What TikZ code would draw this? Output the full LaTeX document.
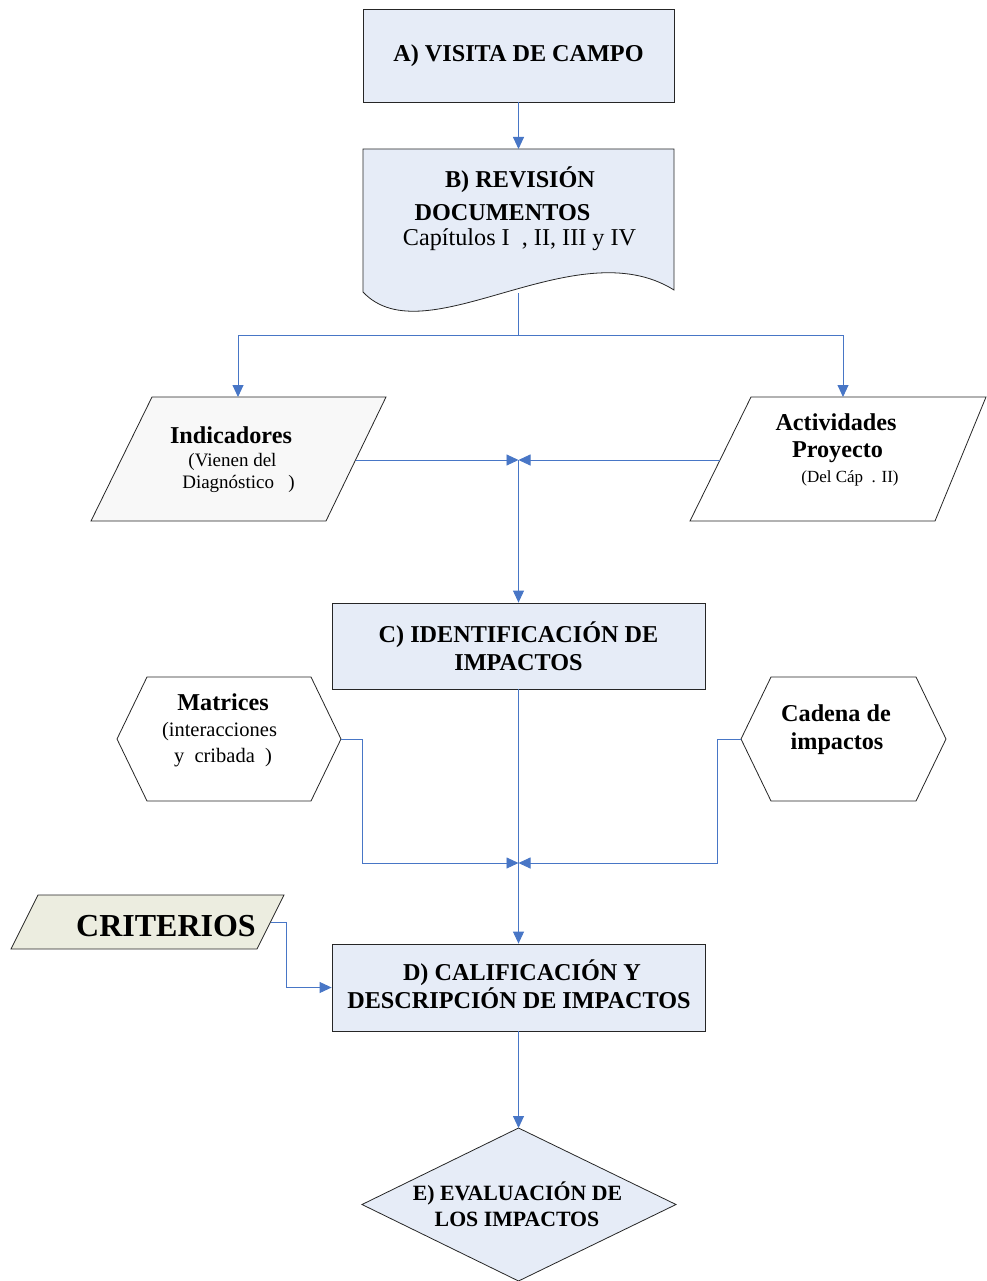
\documentclass[tikz,border=0pt]{standalone}
\usepackage{fontspec}
\setmainfont{Liberation Serif}
\usetikzlibrary{arrows.meta}
\definecolor{boxblue}{RGB}{230,236,247}
\definecolor{linkblue}{RGB}{72,118,198}
\definecolor{paperfill}{RGB}{248,248,248}
\definecolor{critfill}{RGB}{236,237,224}
\tikzset{
  outline/.style={draw=black!85, line width=0.8pt},
  procbox/.style={outline, fill=boxblue, rectangle, inner sep=0pt, align=center,
                  font=\fontsize{24.2}{28}\selectfont\bfseries},
  txt/.style={inner sep=0pt, anchor=base, text=black},
  hd/.style={txt, font=\fontsize{24.2}{28}\selectfont\bfseries},
  conn/.style={draw=linkblue, line width=0.9pt},
  arr/.style={conn, -{Triangle[length=12pt,width=11pt]}},
}
\begin{document}
\begin{tikzpicture}[x=1pt, y=-1pt]
\useasboundingbox (0,0) rectangle (986,1281);

% --- A: field visit
\node[procbox, minimum width=311pt, minimum height=93pt] (A) at (518.5,55.5) {A) VISITA DE CAMPO};

% --- B: document review (document shape)
\draw[outline, fill=boxblue] (363,149) -- (674,149) -- (674,290)
  .. controls (575,228) and (425,358) .. (363,292) -- cycle;
\coordinate (Btop) at (518.5,149);
\coordinate (Bbot) at (518.5,293);
\node[hd] (B1) at (520,188) {B) REVISIÓN};
\node[hd] (B2) at (502.5,221) {DOCUMENTOS};
\node[txt, font=\fontsize{24.2}{28}\selectfont] (B3) at (519.5,246) {Capítulos I\ \ , II, III y IV};

% --- inputs: indicators and project activities
\draw[outline, fill=paperfill] (152,397) -- (386,397) -- (326,521) -- (91,521) -- cycle;
\coordinate (IndTop) at (238,397);
\coordinate (IndR) at (356,460);
\node[hd] (Ind1) at (231,443) {Indicadores};
\node[txt, font=\fontsize{19}{22}\selectfont] (Ind2) at (232.5,466) {(Vienen del};
\node[txt, font=\fontsize{19}{22}\selectfont] (Ind3) at (238.5,488) {Diagnóstico\ \ \ )};

\draw[outline, fill=white] (751,397) -- (986,397) -- (935,521) -- (690,521) -- cycle;
\coordinate (ActTop) at (843,397);
\coordinate (ActL) at (720,460);
\node[hd] (Act1) at (836,430) {Actividades};
\node[hd] (Act2) at (837.5,457) {Proyecto};
\node[txt, font=\fontsize{17}{20}\selectfont] (Act3) at (850,482) {(Del Cáp\ \ . II)};

% --- C: impact identification
\node[procbox, minimum width=373pt, minimum height=86pt] (C) at (518.5,646) {C) IDENTIFICACIÓN DE\\IMPACTOS};

% --- supporting tools (hexagons)
\draw[outline, fill=white] (117,739) -- (147,677) -- (311,677) -- (341,739) -- (311,801) -- (147,801) -- cycle;
\coordinate (MatR) at (341,739);
\node[hd] (Mat1) at (223,710) {Matrices};
\node[txt, font=\fontsize{20.5}{24}\selectfont] (Mat2) at (219.5,736) {(interacciones};
\node[txt, font=\fontsize{20.5}{24}\selectfont] (Mat3) at (223,762) {y\ \ cribada\ \ )};

\draw[outline, fill=white] (741,739) -- (771,677) -- (916,677) -- (946,739) -- (916,801) -- (771,801) -- cycle;
\coordinate (CadL) at (741,739);
\node[hd] (Cad1) at (836,721) {Cadena de};
\node[hd] (Cad2) at (837,749) {impactos};

% --- criteria
\draw[outline, fill=critfill] (38,895) -- (284,895) -- (257,949) -- (11,949) -- cycle;
\coordinate (CritR) at (271,922);
\node[txt, font=\fontsize{32}{36}\selectfont\bfseries] (Crit) at (166,936) {CRITERIOS};

% --- D: rating and description
\node[procbox, minimum width=373pt, minimum height=87pt] (D) at (518.5,987.5) {};
\node[hd] (D1) at (522,980) {D) CALIFICACIÓN Y};
\node[hd] (D2) at (519,1008) {DESCRIPCIÓN DE IMPACTOS};

% --- E: evaluation (decision diamond)
\draw[outline, fill=boxblue] (518.5,1128) -- (676,1204.5) -- (518.5,1281) -- (362,1204.5) -- cycle;
\coordinate (Etop) at (518.5,1128);
\node[txt, font=\fontsize{21.8}{26}\selectfont\bfseries] (E1) at (517.5,1200) {E) EVALUACIÓN DE};
\node[txt, font=\fontsize{21.8}{26}\selectfont\bfseries] (E2) at (517,1226) {LOS IMPACTOS};

% --- junctions
\coordinate (J1) at (518.5,460);
\coordinate (J2) at (518.5,863);

% --- connectors
\draw[arr] (A.south) -- (Btop);
\draw[arr] (Bbot) -- (518.5,335) -| (IndTop);
\draw[arr] (Bbot) -- (518.5,335) -| (ActTop);
\draw[arr] (IndR) -- (J1);
\draw[arr] (ActL) -- (J1);
\draw[arr] (J1) -- (C.north);
\draw[arr] (C.south) -- (D.north);
\draw[arr] (MatR) -- (362,739) |- (J2);
\draw[arr] (CadL) -- (717,739) |- (J2);
\draw[arr] (CritR) -- (286,922) |- (D.west);
\draw[arr] (D.south) -- (Etop);
\end{tikzpicture}
\end{document}
